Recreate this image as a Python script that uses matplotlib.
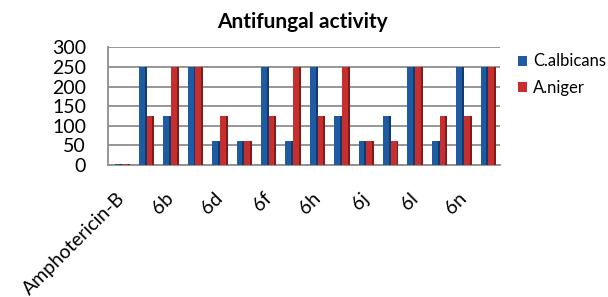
import matplotlib
matplotlib.use("Agg")
import matplotlib.pyplot as plt
import matplotlib.transforms as mtransforms
import numpy as np

categories = ["Amphotericin-B", "6a", "6b", "6c", "6d", "6e", "6f", "6g",
              "6h", "6i", "6j", "6k", "6l", "6m", "6n", "6o"]
c_albicans = [4, 250, 125, 250, 62.5, 62.5, 250, 62.5, 250, 125, 62.5, 125, 250, 62.5, 250, 250]
a_niger = [4, 125, 250, 250, 125, 62.5, 125, 250, 125, 250, 62.5, 62.5, 250, 125, 125, 250]
yticks = [0, 50, 100, 150, 200, 250, 300]

plt.rcParams['font.family'] = ['Lato', 'DejaVu Sans']

fig = plt.figure(figsize=(6.08, 2.97), dpi=100)
ax = fig.add_axes([0.178, 0.444, 0.645, 0.397])

x = np.arange(len(categories))
fw = 0.235   # front face width
sw = 0.08    # side face width
blue = "#1F5BA2"
blue_d = "#15396A"
red = "#C62F2E"
red_d = "#7E1D1C"

ax.set_axisbelow(True)
ax.yaxis.grid(True, color="#8E8E8E", linewidth=1.3)
start = x - (2 * fw + 2 * sw) / 2
ax.bar(start + fw / 2, c_albicans, width=fw, color=blue, zorder=3, label="C.albicans")
ax.bar(start + fw + sw / 2, c_albicans, width=sw, color=blue_d, zorder=3)
ax.bar(start + fw + sw + fw / 2, a_niger, width=fw, color=red, zorder=3, label="A.niger")
ax.bar(start + 2 * fw + sw + sw / 2, a_niger, width=sw, color=red_d, zorder=3)

ax.set_ylim(0, 300)
ax.set_xlim(-0.574, 15.49)
ax.set_yticks(yticks)
ax.set_yticklabels([str(v) for v in yticks], fontsize=14)
offset = mtransforms.ScaledTranslation(0, -4 / 100, fig.dpi_scale_trans)
for lab in ax.get_yticklabels():
    lab.set_transform(lab.get_transform() + offset)
ax.set_xticks(x[::2])
ax.set_xticklabels(categories[::2], rotation=45, ha="right", va="center",
                   rotation_mode="anchor", fontsize=14)
ax.tick_params(axis="y", length=0, pad=16)
ax.tick_params(axis="x", length=0, pad=22)
for s in ["top", "right"]:
    ax.spines[s].set_visible(False)
ax.spines["left"].set_color("#8E8E8E")
ax.spines["left"].set_linewidth(1.3)
ax.spines["bottom"].set_color("#8E8E8E")
ax.spines["bottom"].set_linewidth(1.3)

fig.text(0.498, 0.926, "Antifungal activity", fontsize=15, fontweight="bold",
         ha="center", va="center")

ax.legend(loc="upper left", bbox_to_anchor=(0.852, 0.82), bbox_transform=fig.transFigure,
          frameon=False, fontsize=12, borderpad=0, borderaxespad=0,
          handlelength=0.55, handleheight=0.55, handletextpad=0.35, labelspacing=0.65)

fig.savefig("out.png", dpi=100)
